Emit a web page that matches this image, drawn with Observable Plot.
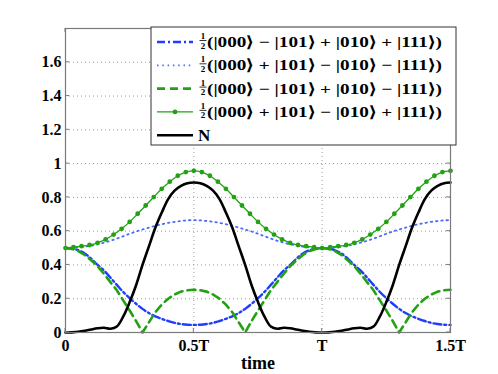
<!DOCTYPE html>
<html><head><meta charset="utf-8">
<script src="https://cdn.jsdelivr.net/npm/d3@7"></script>
<script src="https://cdn.jsdelivr.net/npm/@observablehq/plot@0.6"></script>
<style>body{margin:0;background:#fff} #chart{width:498px;height:374px}</style>
</head><body><div id="chart"></div>
<script>
// sample times (units of T)
const tGrid = d3.range(0, 61).map(i => i * 0.025);
const tDots = d3.range(0, 49).map(i => i / 32);

const seriesA = [0.500,0.497,0.487,0.468,0.437,0.400,0.367,0.325,0.282,0.240,0.203,0.170,0.140,0.115,0.096,0.081,0.068,0.057,0.050,0.046,0.045,
0.046,0.050,0.057,0.068,0.081,0.096,0.115,0.140,0.170,0.203,0.240,0.282,0.325,0.367,0.400,0.437,0.468,0.487,0.497,0.500,
0.497,0.487,0.468,0.437,0.400,0.367,0.325,0.282,0.240,0.203,0.170,0.140,0.115,0.096,0.081,0.068,0.057,0.050,0.046,0.045];
const seriesB = [0.500,0.501,0.504,0.508,0.514,0.522,0.532,0.543,0.556,0.570,0.585,0.598,0.610,0.621,0.632,0.641,0.649,0.655,0.660,0.664,0.665,
0.664,0.660,0.655,0.649,0.641,0.632,0.621,0.610,0.598,0.585,0.570,0.556,0.543,0.532,0.522,0.514,0.508,0.504,0.501,0.500,
0.501,0.504,0.508,0.514,0.522,0.532,0.543,0.556,0.570,0.585,0.598,0.610,0.621,0.632,0.641,0.649,0.655,0.660,0.664,0.665];
const seriesC = [0.500,0.495,0.482,0.459,0.428,0.392,0.347,0.298,0.250,0.190,0.130,0.068,0.000,0.060,0.120,0.165,0.200,0.225,0.242,0.250,0.253,
0.250,0.242,0.225,0.200,0.165,0.120,0.060,0.000,0.068,0.130,0.190,0.250,0.298,0.347,0.392,0.428,0.459,0.482,0.495,0.500,
0.495,0.482,0.459,0.428,0.392,0.347,0.298,0.250,0.190,0.130,0.068,0.000,0.060,0.120,0.165,0.200,0.225,0.242,0.250,0.253];
const seriesN = [0.000,0.001,0.004,0.010,0.018,0.025,0.028,0.022,0.035,0.095,0.180,0.280,0.400,0.510,0.620,0.710,0.790,0.840,0.868,0.884,0.888,
0.884,0.868,0.840,0.790,0.710,0.620,0.510,0.400,0.280,0.180,0.095,0.035,0.022,0.028,0.025,0.018,0.010,0.004,0.001,0.000,
0.001,0.004,0.010,0.018,0.025,0.028,0.022,0.035,0.095,0.180,0.280,0.400,0.510,0.620,0.710,0.790,0.840,0.868,0.884,0.888];
const seriesD = [0.500,0.505,0.511,0.518,0.531,0.551,0.580,0.614,0.655,0.703,0.752,0.802,0.851,0.893,0.928,0.950,0.957,
0.950,0.928,0.893,0.851,0.802,0.752,0.703,0.655,0.614,0.580,0.551,0.531,0.518,0.511,0.505,0.500,
0.505,0.511,0.518,0.531,0.551,0.580,0.614,0.655,0.703,0.752,0.802,0.851,0.893,0.928,0.950,0.957];

const xTicks = [0, 0.5, 1, 1.5];
const xTickLabels = ["0", "0.5T", "T", "1.5T"];
const yTicks = [0, 0.2, 0.4, 0.6, 0.8, 1, 1.2, 1.4, 1.6];
const yTickLabels = ["0", "0.2", "0.4", "0.6", "0.8", "1", "1.2", "1.4", "1.6"];
const legendKets = [
  "(|000⟩ − |101⟩ + |010⟩ + |111⟩)",
  "(|000⟩ + |101⟩ − |010⟩ − |111⟩)",
  "(|000⟩ − |101⟩ + |010⟩ − |111⟩)",
  "(|000⟩ + |101⟩ − |010⟩ + |111⟩)",
  "N"
];
const xLabel = "time";

const BLUE = "#1f3cff", BLUE2 = "#4a6aff", GREEN = "#22a212";
const styles = [
  {stroke: BLUE, strokeWidth: 2.4, strokeDasharray: "8,3,2,3"},
  {stroke: BLUE2, strokeWidth: 1.8, strokeDasharray: "1.5,3.8"},
  {stroke: GREEN, strokeWidth: 2.6, strokeDasharray: "8,5"},
  {stroke: GREEN, strokeWidth: 1.3},
  {stroke: "#000", strokeWidth: 2.6}
];

const mk = (ts, vs) => ts.map((t, i) => ({t, v: vs[i]}));
const dA = mk(tGrid, seriesA), dB = mk(tGrid, seriesB), dC = mk(tGrid, seriesC), dN = mk(tGrid, seriesN), dD = mk(tDots, seriesD);

const plot = Plot.plot({
  width: 498, height: 374,
  marginLeft: 65, marginRight: 48, marginTop: 28, marginBottom: 42,
  style: {fontFamily: "'Liberation Serif', serif", fontWeight: "bold", fontSize: "16px", background: "white", color: "#000"},
  x: {domain: [0, 1.5]},
  y: {domain: [0, 1.8]},
  marks: [
    Plot.gridY(yTicks.slice(1), {stroke: "#9a9a9a", strokeOpacity: 1, strokeDasharray: "1,3"}),
    Plot.gridX([0.5, 1], {stroke: "#9a9a9a", strokeOpacity: 1, strokeDasharray: "1,3"}),
    Plot.axisY(yTicks, {tickSize: 0, tickPadding: 4, tickFormat: d => yTickLabels[yTicks.indexOf(d)], label: null, fontSize: 16}),
    Plot.axisX(xTicks, {tickSize: 0, tickPadding: 7, tickFormat: d => xTickLabels[xTicks.indexOf(d)], label: null, fontSize: 16}),
    Plot.text([xLabel], {frameAnchor: "bottom", dy: 36, text: d => d, fontSize: 18, fontWeight: "bold"}),
    Plot.line(dA, {x: "t", y: "v", curve: "catmull-rom", ...styles[0]}),
    Plot.line(dB, {x: "t", y: "v", curve: "catmull-rom", ...styles[1]}),
    Plot.line(dC, {x: "t", y: "v", curve: "linear", ...styles[2]}),
    Plot.line(dD, {x: "t", y: "v", curve: "catmull-rom", ...styles[3]}),
    Plot.dot(dD, {x: "t", y: "v", r: 2.4, fill: GREEN, stroke: "none"}),
    Plot.line(dN, {x: "t", y: "v", curve: "catmull-rom", ...styles[4]}),
    Plot.frame({stroke: "#7a7a7a", strokeWidth: 1.2})
  ]
});

document.getElementById("chart").appendChild(plot);

// inward ticks on all four sides
const sx = plot.scale("x"), sy = plot.scale("y");
const svg = d3.select(plot);
const X0 = sx.apply(0), X1 = sx.apply(1.5), Y0 = sy.apply(0), Y1 = sy.apply(1.8);
const tg = svg.append("g").attr("stroke", "#7a7a7a").attr("stroke-width", 1);
yTicks.forEach(v => {
  const y = sy.apply(v);
  tg.append("line").attr("x1", X0).attr("x2", X0 + 4).attr("y1", y).attr("y2", y);
  tg.append("line").attr("x1", X1).attr("x2", X1 - 4).attr("y1", y).attr("y2", y);
});
xTicks.forEach(v => {
  const x = sx.apply(v);
  tg.append("line").attr("x1", x).attr("x2", x).attr("y1", Y0).attr("y2", Y0 - 4);
  tg.append("line").attr("x1", x).attr("x2", x).attr("y1", Y1).attr("y2", Y1 + 4);
});

// legend
const lg = svg.append("g").attr("font-family", "'Liberation Serif', serif").attr("font-weight", "bold").attr("text-anchor", "start");
const LX = 151, LY = 27, LW = 305, LH = 118;
lg.append("rect").attr("x", LX).attr("y", LY).attr("width", LW).attr("height", LH)
  .attr("fill", "white").attr("stroke", "#333").attr("stroke-width", 1);
legendKets.forEach((txt, i) => {
  const ry = 42 + i * 23.3;
  const s = styles[i];
  lg.append("line").attr("x1", 157).attr("x2", 193).attr("y1", ry).attr("y2", ry)
    .attr("stroke", s.stroke).attr("stroke-width", s.strokeWidth)
    .attr("stroke-dasharray", s.strokeDasharray || null);
  if (i === 3) lg.append("circle").attr("cx", 175).attr("cy", ry).attr("r", 2.4).attr("fill", GREEN);
  if (i < 4) {
    lg.append("text").attr("x", 203).attr("y", ry - 3).attr("text-anchor", "middle").attr("font-size", 9).text("1");
    lg.append("line").attr("x1", 199.5).attr("x2", 206.5).attr("y1", ry - 1.5).attr("y2", ry - 1.5).attr("stroke", "#000").attr("stroke-width", 0.8);
    lg.append("text").attr("x", 203).attr("y", ry + 6.5).attr("text-anchor", "middle").attr("font-size", 9).text("2");
    lg.append("text").attr("x", 207).attr("y", ry + 5).attr("font-size", 15).attr("text-anchor", "start")
      .attr("textLength", 235).attr("lengthAdjust", "spacingAndGlyphs").text(txt);
  } else {
    lg.append("text").attr("x", 198).attr("y", ry + 6).attr("font-size", 17).attr("text-anchor", "start").text(txt);
  }
});
</script>
</body></html>
